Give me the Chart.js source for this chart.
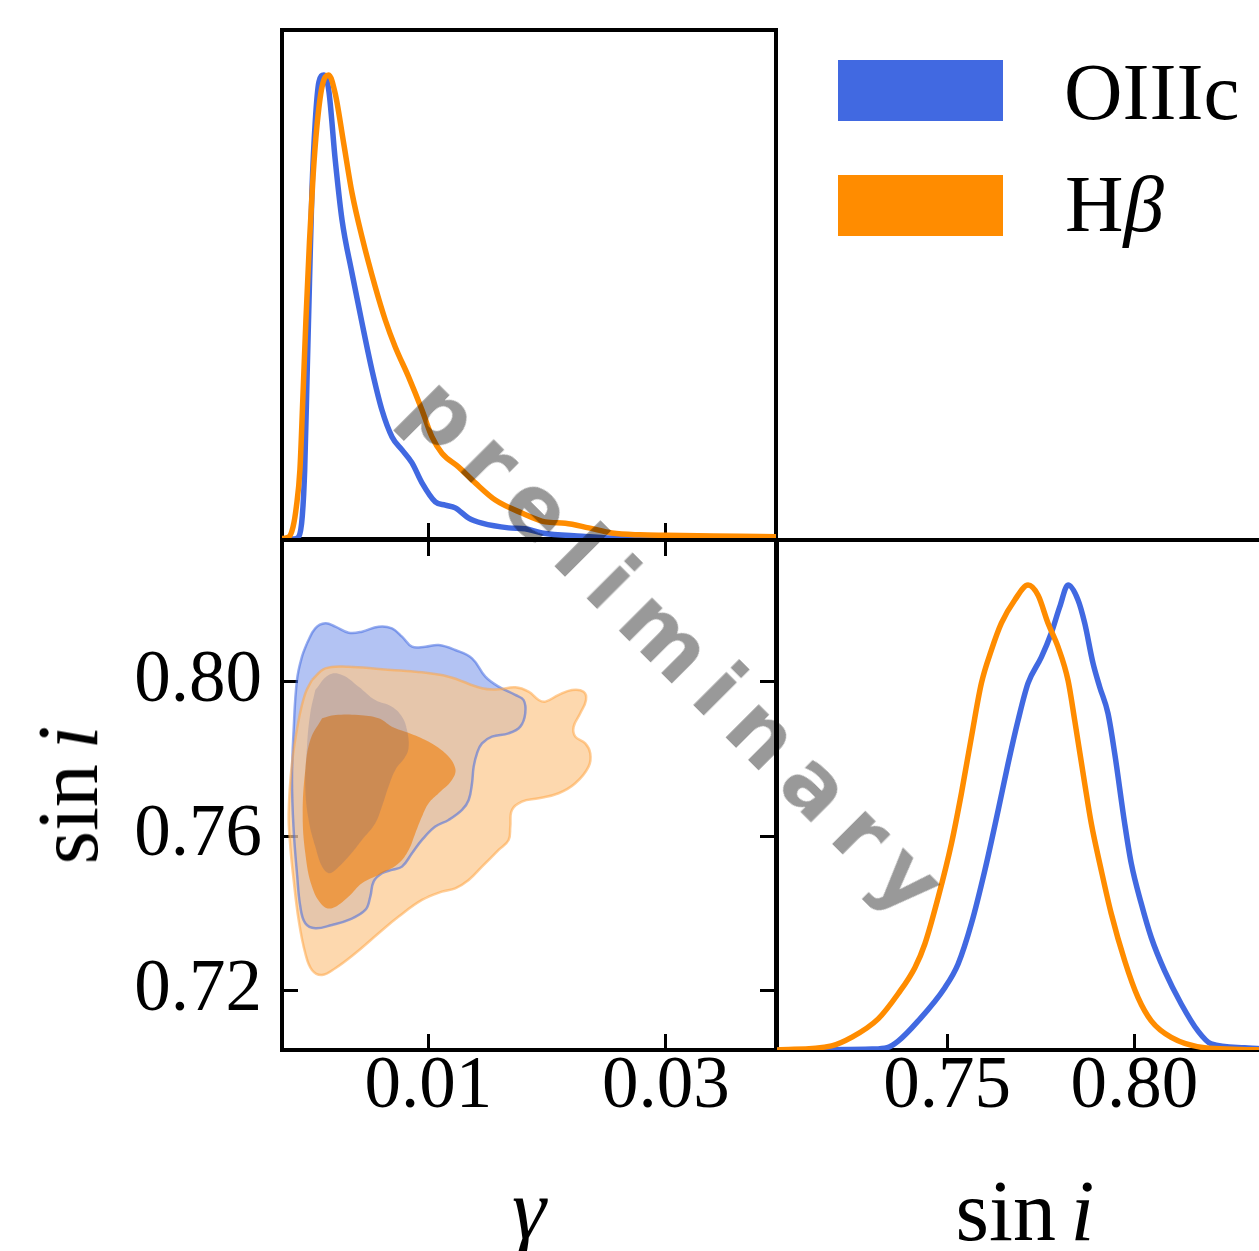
<!DOCTYPE html>
<html>
<head>
<meta charset="utf-8">
<script src="https://cdn.jsdelivr.net/npm/chart.js@4.4.1/dist/chart.umd.min.js"></script>
<style>
html, body { margin: 0; padding: 0; background: #fff; }
#wrap { position: relative; width: 1259px; height: 1251px; overflow: hidden; }
canvas { position: absolute; left: 0; top: 0; }
.lab { position: absolute; font-family: 'Liberation Serif', serif; color: #000; white-space: nowrap; line-height: 1; }
.box { position: absolute; width: 165px; height: 61px; }
#mark {
  position: absolute; left: 681px; top: 651px;
  font-family: 'DejaVu Sans', sans-serif; font-weight: bold; font-size: 85px;
  letter-spacing: 16.5px; line-height: 1; white-space: nowrap;
  color: rgba(0, 0, 0, 0.4);
  transform: translate(-50%, -50%) rotate(45deg);
}
</style>
</head>
<body>
<div id="wrap">
  <canvas id="cTL" width="1259" height="1251"></canvas>
  <canvas id="cBL" width="1259" height="1251"></canvas>
  <canvas id="cBR" width="1300" height="1251"></canvas>

  <div class="box" style="left:838px;top:60px;background:#4169e1"></div>
  <div class="box" style="left:838px;top:175px;background:#ff8c00"></div>
  <div class="lab" id="leg1" style="left:1064px;top:52px;font-size:81px"></div>
  <div class="lab" id="leg2" style="left:1065px;top:164px;font-size:81px"></div>

  <div class="lab" style="left:68px;top:795px;font-size:86px;transform:translate(-50%,-50%) rotate(-90deg)">sin<i style="margin-left:0.17em">i</i></div>
  <div class="lab" style="left:529px;top:1166px;font-size:86px;transform:translateX(-50%)"><i>γ</i></div>
  <div class="lab" style="left:1025px;top:1168px;font-size:86px;transform:translateX(-50%)">sin<i style="margin-left:0.17em">i</i></div>

  <div id="mark">preliminary</div>
</div>

<script>
// axis ranges and ticks
const gammaRange = [-0.00231, 0.03926];
const siniRange = [0.7046, 0.8367];
const densityMax = 1.097;
const gammaTicks = [0.01, 0.03];
const siniTicksY = [0.72, 0.76, 0.80];
const siniTicksX = [0.75, 0.80];
const seriesNames = ['OIIIc', 'H<i>β</i>'];

// 1D marginal of gamma  [gamma, density]
const oiiiGamma = [
  [-0.00231, 0], [-0.00130, 0], [-0.00090, 0.005], [-0.00060, 0.05], [-0.00040, 0.15],
  [-0.00020, 0.35], [0.00000, 0.55], [0.00021, 0.75], [0.00049, 0.90], [0.00080, 0.985],
  [0.00120, 1.0], [0.00162, 0.968], [0.00217, 0.817], [0.00274, 0.688], [0.00358, 0.573],
  [0.00442, 0.466], [0.00526, 0.364], [0.00610, 0.278], [0.00695, 0.220], [0.00779, 0.192],
  [0.00863, 0.164], [0.00947, 0.121], [0.01059, 0.080], [0.01143, 0.073], [0.01227, 0.067],
  [0.01340, 0.045], [0.01452, 0.034], [0.01676, 0.024], [0.01814, 0.022], [0.01957, 0.013],
  [0.02293, 0.006], [0.02546, 0.002], [0.03000, 0.0005], [0.03926, 0]
];
const hbGamma = [
  [-0.00231, 0.001], [-0.00175, 0.004], [-0.00138, 0.026], [-0.00110, 0.07], [-0.00080, 0.15],
  [-0.00056, 0.30], [-0.00030, 0.47], [0.00000, 0.64], [0.00030, 0.78], [0.00063, 0.89],
  [0.00106, 0.975], [0.00162, 1.0], [0.00217, 0.96], [0.00288, 0.853], [0.00358, 0.746],
  [0.00442, 0.651], [0.00554, 0.543], [0.00638, 0.472], [0.00722, 0.414], [0.00835, 0.349],
  [0.00947, 0.278], [0.01031, 0.220], [0.01115, 0.185], [0.01256, 0.155], [0.01395, 0.121],
  [0.01564, 0.084], [0.01788, 0.056], [0.01984, 0.037], [0.02153, 0.034], [0.02350, 0.024],
  [0.02546, 0.013], [0.02781, 0.009], [0.03000, 0.008], [0.03623, 0.006], [0.03926, 0.005]
];

// 1D marginal of sin i  [sin i, density]
const oiiiSini = [
  [0.7046, 0], [0.7300, 0.002], [0.7340, 0.005], [0.73693, 0.019], [0.74227, 0.0625],
  [0.74939, 0.134], [0.75293, 0.185], [0.75648, 0.272], [0.76005, 0.386], [0.76360, 0.515],
  [0.76627, 0.616], [0.76893, 0.709], [0.77160, 0.789], [0.77515, 0.845], [0.77781, 0.897],
  [0.78005, 0.953], [0.78227, 1.0], [0.78493, 0.968], [0.78672, 0.918], [0.78893, 0.832],
  [0.79072, 0.781], [0.79293, 0.724], [0.79472, 0.638], [0.79739, 0.487], [0.79915, 0.401],
  [0.80181, 0.315], [0.80448, 0.242], [0.80805, 0.170], [0.81248, 0.099], [0.81693, 0.041],
  [0.82048, 0.013], [0.82939, 0.005], [0.8367, 0.001]
];
const hbSini = [
  [0.7046, 0], [0.71915, 0.009], [0.72448, 0.027], [0.73160, 0.067], [0.73693, 0.121],
  [0.74139, 0.177], [0.74405, 0.228], [0.74760, 0.328], [0.75115, 0.444], [0.75381, 0.552],
  [0.75648, 0.673], [0.75915, 0.789], [0.76181, 0.860], [0.76448, 0.918], [0.76805, 0.968],
  [0.77160, 1.0], [0.77427, 0.978], [0.77693, 0.918], [0.77960, 0.867], [0.78227, 0.795],
  [0.78405, 0.709], [0.78672, 0.573], [0.78848, 0.487], [0.79115, 0.386], [0.79381, 0.293],
  [0.79739, 0.192], [0.80093, 0.113], [0.80448, 0.0625], [0.80981, 0.027], [0.81872, 0.005],
  [0.8367, 0]
];

// 2D contours  [gamma, sin i]
const oiiiOuter = [
  [-0.00021, 0.80993], [0.00049, 0.81382], [0.00134, 0.81511], [0.00218, 0.81425], [0.00330, 0.81270],
  [0.00442, 0.81296], [0.00582, 0.81425], [0.00694, 0.81382], [0.00779, 0.81166], [0.00863, 0.80907],
  [0.00975, 0.80907], [0.01087, 0.80950], [0.01227, 0.80821], [0.01368, 0.80605], [0.01480, 0.80130],
  [0.01592, 0.79871], [0.01732, 0.79656], [0.01802, 0.79526], [0.01816, 0.79181], [0.01774, 0.78836],
  [0.01676, 0.78663], [0.01536, 0.78577], [0.01452, 0.78404], [0.01410, 0.78145], [0.01382, 0.77800],
  [0.01368, 0.77368], [0.01340, 0.76937], [0.01284, 0.76678], [0.01171, 0.76419], [0.01059, 0.76247],
  [0.00947, 0.75901], [0.00863, 0.75556], [0.00779, 0.75210], [0.00694, 0.75124], [0.00610, 0.75038],
  [0.00540, 0.74822], [0.00512, 0.74434], [0.00470, 0.74088], [0.00330, 0.73830], [0.00190, 0.73700],
  [0.00049, 0.73614], [-0.00035, 0.73743], [-0.00077, 0.74175], [-0.00105, 0.75038], [-0.00133, 0.76160],
  [-0.00147, 0.77455], [-0.00133, 0.78749], [-0.00105, 0.80044], [-0.00063, 0.80648]
];
const oiiiInner = [
  [0.00049, 0.79785], [0.00162, 0.80174], [0.00274, 0.80174], [0.00414, 0.79871], [0.00554, 0.79526],
  [0.00694, 0.79354], [0.00779, 0.79095], [0.00821, 0.78749], [0.00835, 0.78318], [0.00807, 0.78059],
  [0.00723, 0.77714], [0.00666, 0.77282], [0.00610, 0.76764], [0.00554, 0.76333], [0.00442, 0.75901],
  [0.00330, 0.75470], [0.00218, 0.75124], [0.00162, 0.75038], [0.00106, 0.75210], [0.00049, 0.75729],
  [-0.00007, 0.76419], [-0.00035, 0.77282], [-0.00021, 0.78318], [0.00007, 0.79181]
];
const hbOuter = [
  [0.00021, 0.80044], [0.00134, 0.80346], [0.00330, 0.80389], [0.00610, 0.80320], [0.00891, 0.80260],
  [0.01171, 0.80130], [0.01452, 0.79828], [0.01592, 0.79802], [0.01732, 0.79854], [0.01844, 0.79742],
  [0.01929, 0.79526], [0.01985, 0.79483], [0.02097, 0.79656], [0.02209, 0.79785], [0.02307, 0.79742],
  [0.02327, 0.79526], [0.02279, 0.79181], [0.02223, 0.78836], [0.02237, 0.78577], [0.02321, 0.78404],
  [0.02363, 0.78145], [0.02349, 0.77800], [0.02237, 0.77368], [0.02097, 0.77110], [0.01929, 0.76980],
  [0.01788, 0.76894], [0.01704, 0.76678], [0.01690, 0.76247], [0.01676, 0.75901], [0.01592, 0.75642],
  [0.01452, 0.75210], [0.01340, 0.74865], [0.01227, 0.74649], [0.01115, 0.74563], [0.00947, 0.74347],
  [0.00751, 0.73916], [0.00582, 0.73484], [0.00386, 0.72966], [0.00218, 0.72578], [0.00106, 0.72405],
  [0.00021, 0.72535], [-0.00035, 0.72966], [-0.00091, 0.73830], [-0.00133, 0.74865], [-0.00161, 0.75729],
  [-0.00175, 0.76592], [-0.00147, 0.77886], [-0.00091, 0.79008], [-0.00035, 0.79699]
];
const hbInner = [
  [0.00106, 0.79051], [0.00218, 0.79138], [0.00414, 0.79138], [0.00582, 0.79051], [0.00694, 0.78836],
  [0.00807, 0.78706], [0.00975, 0.78490], [0.01143, 0.78145], [0.01227, 0.77757], [0.01199, 0.77455],
  [0.01087, 0.77110], [0.01003, 0.76851], [0.00947, 0.76506], [0.00891, 0.76074], [0.00835, 0.75642],
  [0.00751, 0.75297], [0.00610, 0.75038], [0.00442, 0.74779], [0.00330, 0.74434], [0.00190, 0.74132],
  [0.00106, 0.74218], [0.00021, 0.74692], [-0.00035, 0.75556], [-0.00057, 0.76592], [-0.00035, 0.77714],
  [0.00007, 0.78490]
];

const BLUE = '#4169e1';
const ORANGE = '#ff8c00';
const tickFont = { family: "'Liberation Serif', serif", size: 73 };

document.getElementById('leg1').innerHTML = seriesNames[0];
document.getElementById('leg2').innerHTML = seriesNames[1];

const pts = arr => arr.map(([x, y]) => ({ x, y }));
const closed = arr => pts(arr.concat([arr[0]]));

// fills a closed line dataset using the line element's own path
const polyFill = {
  id: 'polyFill',
  beforeDatasetDraw(chart, args) {
    const ds = chart.data.datasets[args.index];
    if (!ds.polyColor) return;
    const ctx = chart.ctx, a = chart.chartArea, line = args.meta.dataset;
    line.updateControlPoints(a, args.meta.iScale.axis);
    ctx.save();
    ctx.beginPath();
    ctx.rect(a.left, a.top, a.right - a.left, a.bottom - a.top);
    ctx.clip();
    ctx.beginPath();
    line.path(ctx);
    ctx.closePath();
    ctx.fillStyle = ds.polyColor;
    ctx.fill();
    ctx.restore();
  }
};

function axis({ pos, range, ticks, labels, size, pad }) {
  const cfg = {
    type: 'linear', position: pos, min: range[0], max: range[1],
    afterFit: s => { if (s.isHorizontal()) s.height = size; else s.width = size; },
    grid: { display: !!ticks, drawOnChartArea: false, drawTicks: true, tickLength: -16,
            lineWidth: 3, tickWidth: 3, color: '#000', tickColor: '#000' },
    border: { display: true, width: 4, color: '#000' },
    ticks: { display: !!labels, autoSkip: false, maxRotation: 0, minRotation: 0,
             padding: pad || 0, font: tickFont, color: '#000', callback: v => v.toFixed(2) }
  };
  if (ticks) cfg.afterBuildTicks = s => { s.ticks = ticks.map(v => ({ value: v })); };
  return cfg;
}

function curve(data, color, order) {
  return { data: pts(data), borderColor: color, borderWidth: 5.5, pointRadius: 0,
           cubicInterpolationMode: 'monotone', fill: false, order };
}

const base = {
  responsive: false, animation: false, events: [],
  plugins: { legend: { display: false }, tooltip: { enabled: false } }
};

// top-left: gamma marginal
new Chart(document.getElementById('cTL'), {
  type: 'line',
  data: { datasets: [curve(hbGamma, ORANGE, 1), curve(oiiiGamma, BLUE, 2)] },
  options: Object.assign({}, base, {
    layout: { padding: { left: 282, top: 30, right: 1259 - 776, bottom: 1251 - 539 }, autoPadding: false },
    scales: {
      x: axis({ pos: 'bottom', range: gammaRange, ticks: gammaTicks, size: 0 }),
      x2: axis({ pos: 'top', range: gammaRange, size: 0 }),
      y: axis({ pos: 'left', range: [0, densityMax], size: 0 }),
      y2: axis({ pos: 'right', range: [0, densityMax], size: 0 })
    }
  })
});

// bottom-left: gamma vs sin i contours, listed bottom layer first
const layers = [
  { data: oiiiOuter, fill: 'rgba(65,105,225,0.40)', edge: 0 },
  { data: hbOuter, fill: 'rgba(252,200,140,0.70)', edge: 0 },
  { data: oiiiOuter, fill: null, edge: 2.5, color: 'rgba(65,105,225,0.55)' },
  { data: hbInner, fill: 'rgba(240,130,20,0.65)', edge: 0 },
  { data: oiiiInner, fill: 'rgba(60,70,140,0.18)', edge: 0 },
  { data: hbOuter, fill: null, edge: 2.5, color: 'rgba(255,165,70,0.55)' }
];
new Chart(document.getElementById('cBL'), {
  type: 'line',
  data: {
    datasets: layers.map((l, i) => ({
      data: closed(l.data), polyColor: l.fill, borderColor: l.color || 'rgba(0,0,0,0)',
      borderWidth: l.edge, pointRadius: 0, tension: 0.4, fill: false, order: layers.length - i
    }))
  },
  options: Object.assign({}, base, {
    layout: { padding: { left: 0, top: 540, right: 1259 - 776, bottom: 0 }, autoPadding: false },
    scales: {
      x: axis({ pos: 'bottom', range: gammaRange, ticks: gammaTicks, labels: true, size: 201, pad: 10 }),
      x2: axis({ pos: 'top', range: gammaRange, ticks: gammaTicks, size: 0 }),
      y: axis({ pos: 'left', range: siniRange, ticks: siniTicksY, labels: true, size: 282, pad: 36 }),
      y2: axis({ pos: 'right', range: siniRange, ticks: siniTicksY, size: 0 })
    }
  }),
  plugins: [polyFill]
});

// bottom-right: sin i marginal
new Chart(document.getElementById('cBR'), {
  type: 'line',
  data: { datasets: [curve(hbSini, ORANGE, 1), curve(oiiiSini, BLUE, 2)] },
  options: Object.assign({}, base, {
    layout: { padding: { left: 777, top: 540, right: 1300 - 1272, bottom: 0 }, autoPadding: false },
    scales: {
      x: axis({ pos: 'bottom', range: siniRange, ticks: siniTicksX, labels: true, size: 201, pad: 10 }),
      x2: axis({ pos: 'top', range: siniRange, size: 0 }),
      y: axis({ pos: 'left', range: [0, densityMax], size: 0 }),
      y2: axis({ pos: 'right', range: [0, densityMax], size: 0 })
    }
  })
});
</script>
</body>
</html>
